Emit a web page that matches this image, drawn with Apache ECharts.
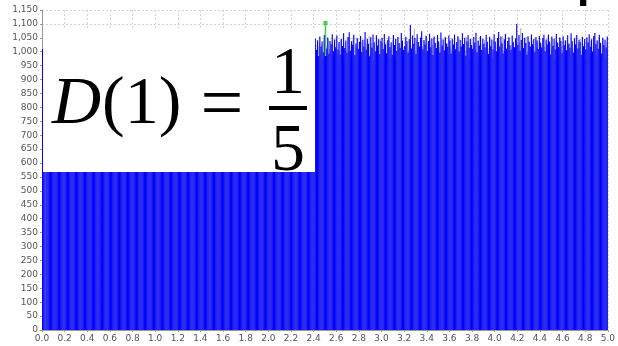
<!DOCTYPE html>
<html>
<head>
<meta charset="utf-8">
<script src="https://cdn.jsdelivr.net/npm/echarts@6/dist/echarts.min.js"></script>
<style>
  html, body { margin: 0; padding: 0; background: #ffffff; }
  #chart { width: 618px; height: 346px; }
</style>
</head>
<body>
<div id="chart"></div>
<script>
// Histogram bins: each bin is BIN_WIDTH wide, starting at X_MIN
const X_MIN = 0;
const X_MAX = 5;
const BIN_WIDTH = 0.01;

// Counts per bin, 20 bins (0.2 on the axis) per row
const binCounts = [
  1010,1018,1025,1003,1031,1012,996,1027,1040,1015,1008,1033,1021,999,1036,1019,1011,1042,1024,1006,
  1029,1014,1037,1002,1020,1045,1017,1009,1032,1023,1000,1038,1016,1027,1007,1041,1022,1013,1035,1004,
  1026,1039,1011,1019,1046,1008,1030,1021,1001,1034,1017,1043,1025,1012,1036,1005,1028,1040,1016,1022,
  1033,1009,1044,1020,1014,1037,1027,1002,1031,1018,1048,1013,1024,1039,1006,1029,1021,1035,1010,1042,
  1017,1028,1003,1038,1023,1045,1011,1030,1019,1036,1008,1026,1041,1015,1032,1004,1037,1022,1012,1047,
  1020,1034,1007,1027,1043,1016,1031,1001,1039,1024,1013,1036,1028,1009,1044,1018,1025,1040,1006,1033,
  1021,1012,1038,1026,1005,1042,1019,1030,1015,1035,1023,1047,1010,1029,1037,1002,1032,1018,1041,1025,
  1014,1036,1027,1008,1043,1020,1031,1016,1039,1004,1028,1045,1022,1011,1034,1026,1007,1040,1019,1030,
  1037,1015,1024,1046,1009,1033,1021,1041,1013,1029,1003,1038,1026,1017,1044,1010,1032,1023,1036,1006,
  1027,1042,1018,1031,1012,1039,1024,1005,1035,1020,1048,1014,1029,1037,1008,1033,1022,1043,1016,1026,
  1040,1011,1034,1023,1046,1017,1030,1002,1038,1025,1013,1041,1019,1032,1007,1036,1028,1044,1015,1021,
  1033,1006,1039,1024,1018,1045,1012,1031,1027,1004,1037,1020,1042,1016,1029,1035,1010,1026,1040,1022,
  1032,1048,1006,1041,985,1055,1019,1037,998,1060,1024,1012,1051,993,1039,1027,1063,1002,1044,1016,
  1058,1008,1035,990,1047,1021,1066,1013,1040,996,1053,1070,1004,1038,1025,1061,987,1030,1049,1011,
  1036,1057,999,1043,1018,1071,1007,1046,1029,984,1052,1015,1062,1033,1001,1059,1022,1045,992,1038,
  1050,1010,1064,1027,995,1041,1056,1017,1034,989,1060,1024,1046,1003,1053,1031,1014,1067,1040,1006,
  1021,1054,1038,997,1045,1096,1012,1058,1028,1049,991,1063,1035,1019,1051,1074,1009,1042,1026,1057,
  1003,1039,1065,1016,1048,988,1055,1031,1013,1060,1037,996,1069,1022,1044,1005,1052,1030,1018,1058,
  1041,993,1047,1026,1062,1009,1035,1056,1001,1043,1019,1066,1028,1050,986,1038,1059,1014,1046,1024,
  1011,1053,1033,1068,998,1040,1022,1057,1006,1047,1029,1015,1061,1036,992,1054,1020,1044,1008,1063,
  1037,1002,1049,1071,1018,1055,1030,994,1045,1064,1011,1039,1052,1023,1007,1058,1034,1016,1048,1100,
  1025,1060,1004,1042,1067,1013,1050,1031,989,1056,1036,1019,1062,1027,1046,998,1053,1040,1010,1057,
  1032,1015,1049,1061,1002,1044,1026,1062,1037,990,1055,1021,1047,1008,1064,1033,1017,1051,1039,995,
  1056,1023,1041,1005,1059,1030,1014,1066,1038,997,1048,1027,1060,1012,1043,1035,988,1054,1020,1046,
  1009,1052,1034,1063,1018,1045,1001,1057,1067,1026,1040,1011,1061,1032,994,1050,1024,1043,1015,1055
];

// Y axis range and step
const Y_MIN = 0;
const Y_MAX = 1150;
const Y_STEP = 50;
const X_STEP = 0.2;

// Highlighted bin marker (green pin)
const markerX = 2.505;
const markerTop = 1103;
const markerBottom = 985;

// [binStart, binEnd, count]
const binData = binCounts.map((c, i) => [X_MIN + i * BIN_WIDTH, X_MIN + (i + 1) * BIN_WIDTH, c]);

function barRenderer(color, dx, dy) {
  return function (params, api) {
    const top = api.coord([api.value(0), api.value(2)]);
    const base = api.coord([api.value(1), 0]);
    return {
      type: 'rect',
      shape: {
        x: top[0] + dx,
        y: top[1] + dy,
        width: base[0] - top[0],
        height: base[1] - top[1]
      },
      style: { fill: color }
    };
  };
}

const chart = echarts.init(document.getElementById('chart'), null, { renderer: 'canvas' });

const labelStyle = { color: '#555555', fontSize: 9, fontFamily: 'DejaVu Sans' };
const splitStyle = { show: true, lineStyle: { color: '#d4d4d4', type: [2, 2], width: 1 } };

chart.setOption({
  animation: false,
  backgroundColor: '#ffffff',
  grid: { left: 42, right: 5, top: 10, bottom: 16, containLabel: false },
  xAxis: {
    type: 'value',
    min: X_MIN,
    max: X_MAX,
    interval: X_STEP,
    axisLine: { show: true, lineStyle: { color: '#999999' } },
    axisTick: { show: true, length: 2, lineStyle: { color: '#999999' } },
    axisLabel: Object.assign({ margin: 4, formatter: v => v.toFixed(1), hideOverlap: false }, labelStyle),
    splitLine: splitStyle
  },
  yAxis: {
    type: 'value',
    min: Y_MIN,
    max: Y_MAX,
    interval: Y_STEP,
    axisLine: { show: true, lineStyle: { color: '#999999' } },
    axisTick: { show: true, length: 2, lineStyle: { color: '#999999' } },
    axisLabel: Object.assign({ margin: 4, formatter: v => v.toLocaleString('en-US') }, labelStyle),
    splitLine: splitStyle
  },
  series: [
    {
      name: 'shadow',
      type: 'custom',
      clip: true,
      renderItem: barRenderer('#b4b4b4', 4, 4),
      encode: { x: [0, 1], y: 2 },
      data: binData,
      silent: true
    },
    {
      name: 'counts',
      type: 'custom',
      clip: true,
      renderItem: barRenderer('#0000ff', 0, 0),
      encode: { x: [0, 1], y: 2 },
      data: binData,
      silent: true
    },
    {
      name: 'marker',
      type: 'line',
      data: [
        { value: [markerX, markerTop], symbol: 'rect', symbolSize: 4 },
        { value: [markerX, markerBottom], symbol: 'none' }
      ],
      showSymbol: true,
      lineStyle: { color: '#3fcf3f', width: 1.5 },
      itemStyle: { color: '#3fcf3f' },
      z: 5,
      silent: true
    }
  ],
  graphic: [
    {
      type: 'rect',
      z: 100,
      shape: { x: 43, y: 30, width: 272, height: 142 },
      style: { fill: '#ffffff' }
    },
    {
      type: 'text',
      z: 101,
      style: { text: 'D', x: 52, y: 105, font: 'italic 68px "Liberation Serif"', fill: '#000', verticalAlign: 'middle' }
    },
    {
      type: 'text',
      z: 101,
      style: { text: '(1)', x: 102, y: 105, font: '68px "Liberation Serif"', fill: '#000', verticalAlign: 'middle' }
    },
    {
      type: 'text',
      z: 101,
      style: { text: '=', x: 222, y: 108, font: '76px "Liberation Serif"', fill: '#000', align: 'center', verticalAlign: 'middle' }
    },
    {
      type: 'text',
      z: 101,
      style: { text: '1', x: 288, y: 75, font: '68px "Liberation Serif"', fill: '#000', align: 'center', verticalAlign: 'middle' }
    },
    {
      type: 'rect',
      z: 101,
      shape: { x: 269, y: 106, width: 38, height: 4 },
      style: { fill: '#000' }
    },
    {
      type: 'text',
      z: 101,
      style: { text: '5', x: 288, y: 152, font: '68px "Liberation Serif"', fill: '#000', align: 'center', verticalAlign: 'middle' }
    },
    {
      type: 'text',
      z: 101,
      style: { text: 'p', x: 577, y: -28, font: 'bold 36px "DejaVu Sans"', fill: '#000', verticalAlign: 'top' }
    }
  ]
});
</script>
</body>
</html>
